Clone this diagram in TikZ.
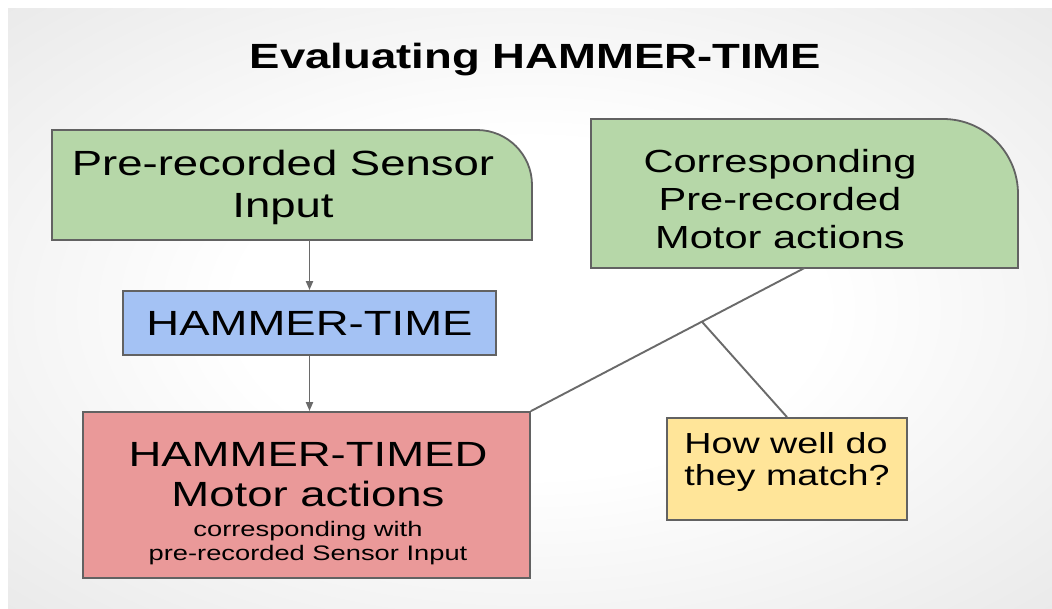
\documentclass[tikz,border=0pt]{standalone}
\usepackage{fontspec}
\setmainfont{Liberation Sans}[FakeStretch=1.3]
\usetikzlibrary{arrows.meta,calc,positioning}
\definecolor{recfill}{HTML}{B6D7A8}
\definecolor{enginefill}{HTML}{A4C2F4}
\definecolor{outfill}{HTML}{EA9999}
\definecolor{askfill}{HTML}{FFE599}
\definecolor{boxdraw}{HTML}{626262}
\definecolor{linkdraw}{HTML}{6A6A6A}
\definecolor{slidemid}{HTML}{DCDCDC}
\definecolor{slideedge}{HTML}{CCCCCC}
\pgfdeclareradialshading{slideglow}{\pgfpoint{0bp}{0bp}}{%
  color(0bp)=(white); color(14bp)=(white);
  color(50bp)=(slidemid); color(71bp)=(slideedge)}

\begin{document}
\begin{tikzpicture}[
  x=1pt, y=-1pt,
  >={Triangle[length=9pt,width=7pt]},
  signal/.style={->, draw=linkdraw, line width=1.9pt},
  wire/.style={draw=linkdraw, line width=1.9pt},
  frame/.style={inner sep=0pt, outer sep=0pt},
  recorded/.style={fill=recfill, draw=boxdraw, line width=1.8pt},
  boxtext/.style={align=center, inner sep=0pt,
    font=\fontsize{35}{42}\selectfont},
  engine/.style={
    draw=boxdraw, fill=enginefill, line width=1.8pt,
    minimum width=373pt, minimum height=64pt, inner sep=0pt,
    font=\fontsize{35}{42}\selectfont
  },
  outcome/.style={
    draw=boxdraw, fill=outfill, line width=1.8pt,
    minimum width=447pt, minimum height=166pt, inner sep=0pt
  },
  question/.style={
    draw=boxdraw, fill=askfill, line width=1.8pt,
    minimum width=240pt, minimum height=102pt, inner sep=0pt
  },
  title/.style={font=\fontsize{35}{42}\selectfont\bfseries, inner sep=0pt}
]

% Slide and its margins.
\fill[white] (0,0) rectangle (1052,608);
\useasboundingbox (0,0) rectangle (1052,608);
\shade[shading=slideglow] (8,8) rectangle (1052,608);

\node[title, anchor=base] (title) at (535.5,68) {Evaluating HAMMER-TIME};

% Pre-recorded inputs, one corner rounded.
\node[frame, minimum width=480pt, minimum height=110pt] (sensorIn) at (292,185) {};
\path[recorded] (sensorIn.south west) -- (sensorIn.north west)
  -- ([xshift=-55pt]sensorIn.north east)
  arc[start angle=90, end angle=0, radius=55pt]
  -- (sensorIn.south east) -- cycle;
\node[boxtext] (sensorText) at (283,187) {Pre-recorded Sensor\\Input};

\node[frame, minimum width=427pt, minimum height=149pt] (motorRef) at (804.5,193.5) {};
\path[recorded] (motorRef.south west) -- (motorRef.north west)
  -- ([xshift=-75pt]motorRef.north east)
  arc[start angle=90, end angle=0, radius=75pt]
  -- (motorRef.south east) -- cycle;
\node[boxtext, font=\fontsize{32}{38}\selectfont] (motorText) at (780,199)
  {Corresponding\\Pre-recorded\\Motor actions};

% Model and its output.
\node[engine] (hammerTime) at (309.5,323) {HAMMER-TIME};

\node[outcome] (timedOut) at (306.5,495) {};
\node[boxtext, font=\fontsize{35}{40}\selectfont] (timedText) at (308,504)
  {HAMMER-TIMED\\Motor actions\\[-10pt]
   {\fontsize{21}{24}\selectfont corresponding with}\\[-16pt]
   {\fontsize{21}{24}\selectfont pre-recorded Sensor Input}};

\node[question] (matchQ) at (787,469) {};
\node[boxtext, align=left, font=\fontsize{29}{32}\selectfont] (matchText) at (787,462)
  {How well do\\they match?};

% Connectors.
\draw[signal] (hammerTime.north |- sensorIn.south) -- (hammerTime.north);
\draw[signal] (hammerTime.south) -- (hammerTime.south |- timedOut.north);
\coordinate (split) at ($(motorRef.south)!0.375!(timedOut.north east)$);
\draw[wire] (motorRef.south) -- (timedOut.north east);
\draw[wire] (split) -- (matchQ.north);

\end{tikzpicture}
\end{document}
